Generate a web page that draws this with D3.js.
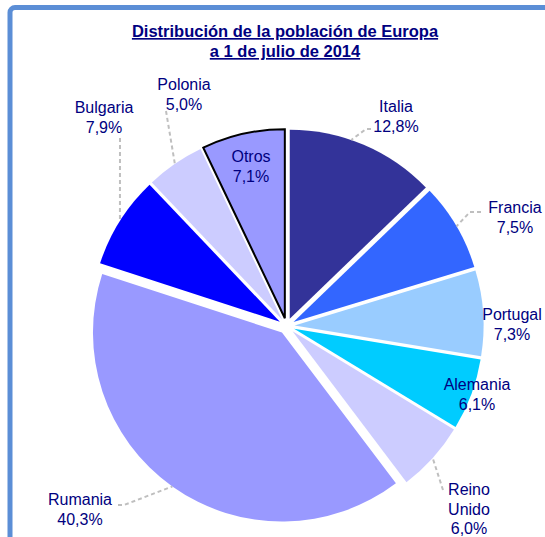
<!DOCTYPE html>
<html>
<head>
<meta charset="utf-8">
<script src="https://cdn.jsdelivr.net/npm/d3@7"></script>
<style>
  html, body { margin: 0; padding: 0; background: #fff; }
  svg { display: block; font-family: "Liberation Sans", Arial, sans-serif; }
</style>
</head>
<body>
<div id="chart"></div>
<script>
// Data
const countries = ["Italia", "Francia", "Portugal", "Alemania", "Reino Unido", "Rumania", "Bulgaria", "Polonia", "Otros"];
const shares = [12.8, 7.5, 7.3, 6.1, 6.0, 40.3, 7.9, 5.0, 7.1];
const nameLines = [["Italia"], ["Francia"], ["Portugal"], ["Alemania"], ["Reino", "Unido"], ["Rumania"], ["Bulgaria"], ["Polonia"], ["Otros"]];
const titleLines = ["Distribución de la población de Europa", "a 1 de julio de 2014"];

// Styles / layout
const width = 545;
const height = 537;
const cx = 286.6, cy = 326, radius = 189;
const explode = 8;
const colors = ["#333399", "#3366FF", "#99CCFF", "#00CCFF", "#CCCCFF", "#9999FF", "#0000FF", "#CCCCFF", "#9999FF"];
const textColor = "#000080";

// label anchor (centre x, first baseline) and leader line start points
const labelPos = {
  "Italia": { x: 396, y: 112, leader: [[371, 129], [366, 129]], angle: 19 },
  "Francia": { x: 515, y: 213, leader: [[481, 212], [470, 212]] },
  "Portugal": { x: 512, y: 320 },
  "Alemania": { x: 477, y: 390 },
  "Reino Unido": { x: 469, y: 495, leader: [[443, 490]] },
  "Rumania": { x: 80, y: 505, leader: [[118, 505], [124, 505]] },
  "Bulgaria": { x: 104, y: 113, leader: [[120, 138]] },
  "Polonia": { x: 184, y: 90, leader: [[166, 111]] },
  "Otros": { x: 251, y: 162 }
};
const lineHeight = 19.5;

const fmt = v => d3.format(".1f")(v).replace(".", ",") + "%";

const svg = d3.select("#chart")
  .append("svg")
  .attr("width", width)
  .attr("height", height)
  .attr("viewBox", [0, 0, width, height]);

// frame
svg.append("rect")
  .attr("x", 10).attr("y", 7.5)
  .attr("width", 600).attr("height", 600)
  .attr("rx", 5)
  .attr("fill", "none")
  .attr("stroke", "#5B8ED6")
  .attr("stroke-width", 5);

// title
const title = svg.append("text")
  .attr("text-anchor", "middle")
  .attr("fill", textColor)
  .attr("font-weight", "bold")
  .attr("font-size", 16.5)
  .attr("text-decoration", "underline");
title.selectAll("tspan")
  .data(titleLines)
  .join("tspan")
  .attr("x", 285)
  .attr("y", (d, i) => 37 + i * 20)
  .text(d => d);

const rows = countries.map((c, i) => ({ name: c, value: shares[i], lines: nameLines[i], color: colors[i] }));

const pie = d3.pie().sort(null).value(d => d.value);
const arcs = pie(rows);
const arc = d3.arc().innerRadius(0).outerRadius(radius);

const offset = d => {
  const a = (d.startAngle + d.endAngle) / 2;
  return [explode * Math.sin(a), -explode * Math.cos(a)];
};

const g = svg.append("g").attr("transform", `translate(${cx},${cy})`);

g.selectAll("path")
  .data(arcs)
  .join("path")
  .attr("transform", d => `translate(${offset(d)})`)
  .attr("d", arc)
  .attr("fill", d => d.data.color)
  .attr("stroke", d => d.data.name === "Otros" ? "#000" : "none")
  .attr("stroke-width", 2)
  .attr("stroke-linejoin", "miter");

// leader lines
const leaders = svg.append("g");
arcs.forEach(d => {
  const lp = labelPos[d.data.name];
  if (!lp.leader) return;
  const a = lp.angle != null ? lp.angle * Math.PI / 180 : (d.startAngle + d.endAngle) / 2;
  const [ox, oy] = offset(d);
  const end = [cx + ox + radius * Math.sin(a), cy + oy - radius * Math.cos(a)];
  leaders.append("path")
    .attr("d", d3.line()([...lp.leader, end]))
    .attr("fill", "none")
    .attr("stroke", "#BFBFBF")
    .attr("stroke-width", 2)
    .attr("stroke-dasharray", "4,3");
});

// labels
const labels = svg.append("g")
  .attr("font-size", 16)
  .attr("fill", textColor)
  .attr("text-anchor", "middle");

arcs.forEach(d => {
  const lp = labelPos[d.data.name];
  const t = labels.append("text");
  const lines = [...d.data.lines, fmt(d.data.value)];
  t.selectAll("tspan")
    .data(lines)
    .join("tspan")
    .attr("x", lp.x)
    .attr("y", (s, i) => lp.y + i * lineHeight)
    .text(s => s);
});
</script>
</body>
</html>
